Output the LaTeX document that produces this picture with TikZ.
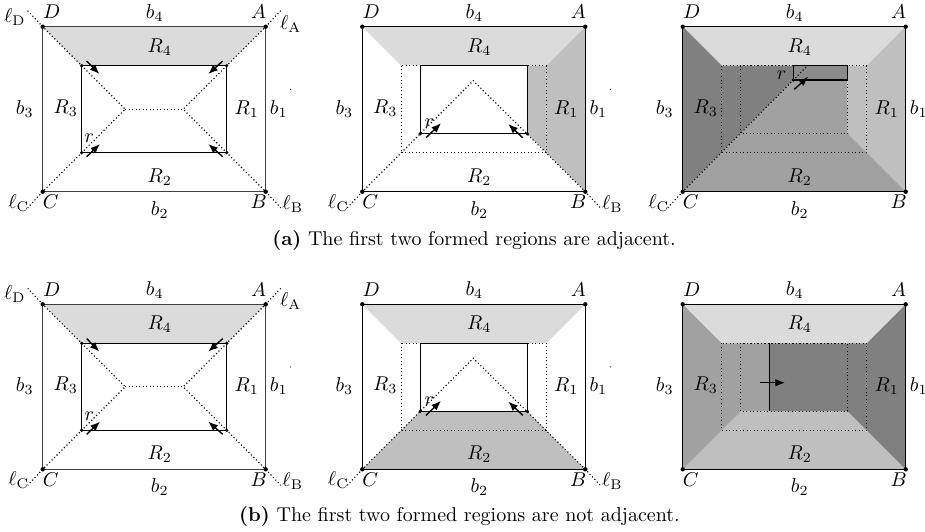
\documentclass[tikz,border=0pt]{standalone}
\usetikzlibrary{arrows.meta}
\begin{document}
\begin{tikzpicture}[x=0.5pt,y=-0.5pt,
  outer/.style={line width=0.6pt},
  innerrect/.style={line width=0.65pt},
  dots/.style={line width=0.55pt,dash pattern=on 0.55pt off 1.2pt},
  arr/.style={line width=0.7pt,-{Latex[length=4.8pt,width=3.8pt]}},
  lab/.style={inner sep=0pt,font=\fontsize{9.6}{11}\selectfont},
  vdot/.style={circle,fill,inner sep=0pt,minimum size=2.2pt},
  tdot/.style={circle,fill,inner sep=0pt,minimum size=0.6pt},
  capt/.style={inner sep=0pt,font=\fontsize{10}{12}\selectfont},
  gA/.style={fill=black!14},
  gB/.style={fill=black!25},
  gC/.style={fill=black!37},
  gD/.style={fill=black!50},
  gE/.style={fill=black!46}]
\useasboundingbox (0,0) rectangle (925,531);

\newcommand\setpts{%
  \coordinate (D) at (0,0); \coordinate (A) at (223,0);
  \coordinate (B) at (223,165); \coordinate (C) at (0,165);
  \coordinate (o1) at (39,39); \coordinate (o2) at (184,39);
  \coordinate (o3) at (184,126); \coordinate (o4) at (39,126);
  \coordinate (i1) at (58,39); \coordinate (i2) at (165,39);
  \coordinate (i3) at (165,107); \coordinate (i4) at (58,107);
  \coordinate (s1) at (82.5,82.5); \coordinate (s2) at (140.5,82.5);
  \coordinate (apex) at (111,54);
  \coordinate (lD) at (-15,-16); \coordinate (lA) at (238,-16);
  \coordinate (lB) at (238,181); \coordinate (lC) at (-15,181);}
\newcommand\labs{%
  \node[lab] (tD) at (9,-15) {$D$};
  \node[lab] (tA) at (216,-15) {$A$};
  \node[lab] (tB) at (216,175) {$B$};
  \node[lab] (tC) at (8,175) {$C$};
  \node[lab] (t4) at (112,-14) {$b_4$};
  \node[lab] (t2) at (117,183) {$b_2$};
  \node[lab] (t3) at (-18,82) {$b_3$};
  \node[lab] (t1) at (236,82) {$b_1$};
  \node[lab] (r4) at (117,20) {$R_4$};
  \node[lab] (r2) at (117,150) {$R_2$};
  \node[lab] (r3) at (23,81) {$R_3$};
  \node[lab] (r1) at (204,82) {$R_1$};}
\newcommand\corners{%
  \foreach \c in {D,A,B,C} {\node[vdot] (d\c) at (\c) {};}}
\newcommand\lC{\node[lab] (ellC) at (-24,176) {$\ell_{\mathrm{C}}$};}
\newcommand\lB{\node[lab] (ellB) at (250,177) {$\ell_{\mathrm{B}}$};}
\newcommand\stray{\node[tdot] (sd) at (248,62.6) {};}

% ---------- panel one (used twice) ----------
\newcommand\panelone{%
  \setpts
  \fill[gA] (D)--(A)--(o2)--(o1)--cycle;
  \draw[dots] (lD)--(D)--(s1)--(C)--(lC);
  \draw[dots] (s1)--(s2);
  \draw[dots] (lA)--(A)--(s2)--(B)--(lB);
  \draw[outer,black!75] (D) rectangle (B);
  \draw[innerrect] (o1) rectangle (o3);
  \corners
  \foreach \c in {o1,o2,o3,o4} {\node[vdot,minimum size=1.8pt] (d\c) at (\c) {};}
  \coordinate (a1s) at (44,34.3); \coordinate (a1e) at (56.6,47.3);
  \coordinate (a2s) at (180,34.3); \coordinate (a2e) at (165.6,47.3);
  \coordinate (a3s) at (44,130); \coordinate (a3e) at (57.3,117.3);
  \coordinate (a4s) at (180,130); \coordinate (a4e) at (165.6,117.3);
  \draw[arr] (a1s)--(a1e); \draw[arr] (a2s)--(a2e);
  \draw[arr] (a3s)--(a3e); \draw[arr] (a4s)--(a4e);
  \node[lab] (rr) at (46.6,111.6) {$r$};
  \labs
  \node[lab] (ellD) at (-28,-10) {$\ell_{\mathrm{D}}$};
  \node[lab] (ellA) at (248,-3) {$\ell_{\mathrm{A}}$};
  \lC \lB \stray}

% ---------- panel two arrows ----------
\newcommand\twoarrows{%
  \coordinate (a3s) at (63.7,111); \coordinate (a3e) at (78.7,96.6);
  \coordinate (a4s) at (160.4,111); \coordinate (a4e) at (146,97.3);
  \draw[arr] (a3s)--(a3e); \draw[arr] (a4s)--(a4e);
  \node[lab] (rr) at (67,96.6) {$r$};
  \node[vdot,minimum size=1.8pt] (di3) at (i3) {};
  \node[vdot,minimum size=1.8pt] (di4) at (i4) {};}

% (a) panel 1
\begin{scope}[shift={(42.7,26.7)},name prefix=a1-]
  \panelone
\end{scope}

% (a) panel 2
\begin{scope}[shift={(362.3,26.7)},name prefix=a2-]
  \setpts
  \fill[gA] (D)--(A)--(o2)--(o1)--cycle;
  \fill[gB] (A)--(o2)--(i2)--(i3)--(B)--cycle;
  \draw[dots] (o1) rectangle (o3);
  \draw[dots] (lC)--(C)--(apex)--(B)--(lB);
  \draw[outer] (D) rectangle (B);
  \draw[innerrect] (i1) rectangle (i3);
  \corners
  \twoarrows
  \labs \lC \lB \stray
\end{scope}

% (a) panel 3
\begin{scope}[shift={(682.7,26.7)},name prefix=a3-]
  \setpts
  \coordinate (k1) at (110.6,39); \coordinate (k3) at (164.6,53.3);
  \coordinate (k4) at (110.6,53.3); \coordinate (kt) at (124.9,39);
  \fill[gA] (D)--(A)--(o2)--(o1)--cycle;
  \fill[gB] (A)--(o2)--(i2)--(i3)--(B)--cycle;
  \fill[gD] (D)--(o1)--(k1)--(k4)--(C)--cycle;
  \fill[gC] (C)--(B)--(i3)--(k3)--(k4)--cycle;
  \fill[gE] (k1) rectangle (k3);
  \draw[dots] (o1) rectangle (o3);
  \draw[dots] (i1) rectangle (i3);
  \draw[dots] (lC)--(C)--(kt);
  \draw[innerrect] (k1) rectangle (k3);
  \draw[outer] (D) rectangle (B);
  \corners
  \node[vdot,minimum size=1.8pt] (dk4) at (k4) {};
  \coordinate (a5s) at (111.6,62.6); \coordinate (a5e) at (125.6,50);
  \draw[arr] (a5s)--(a5e);
  \node[lab] (rr) at (99,48.3) {$r$};
  \labs \lC
\end{scope}

% (b) panel 1
\begin{scope}[shift={(42.7,304.3)},name prefix=b1-]
  \panelone
\end{scope}

% (b) panel 2
\begin{scope}[shift={(362.3,304.3)},name prefix=b2-]
  \setpts
  \fill[gA] (D)--(A)--(o2)--(o1)--cycle;
  \fill[gB] (C)--(B)--(i3)--(i4)--cycle;
  \draw[dots] (o1) rectangle (o3);
  \draw[dots] (lC)--(C)--(apex)--(B)--(lB);
  \draw[outer] (D) rectangle (B);
  \draw[innerrect] (i1) rectangle (i3);
  \corners
  \twoarrows
  \labs \lC \lB \stray
\end{scope}

% (b) panel 3
\begin{scope}[shift={(682.7,304.3)},name prefix=b3-]
  \setpts
  \coordinate (v1) at (86.6,39); \coordinate (v2) at (86.6,107);
  \fill[gA] (D)--(A)--(o2)--(o1)--cycle;
  \fill[gB] (C)--(B)--(i3)--(i4)--cycle;
  \fill[gC] (D)--(o1)--(v1)--(v2)--(i4)--(C)--cycle;
  \fill[gD] (A)--(B)--(i3)--(v2)--(v1)--(o2)--cycle;
  \draw[dots] (o1) rectangle (o3);
  \draw[dots] (i1) rectangle (i3);
  \draw[innerrect] (v1)--(v2);
  \coordinate (a6s) at (77.3,78.4); \coordinate (a6e) at (102.3,78.4);
  \draw[arr] (a6s)--(a6e);
  \draw[outer] (D) rectangle (B);
  \corners
  \labs
\end{scope}

\node[capt] (capa) at (474,240) {\textbf{(a)} The first two formed regions are adjacent.};
\node[capt] (capb) at (459.5,516) {\textbf{(b)} The first two formed regions are not adjacent.};
\end{tikzpicture}
\end{document}
